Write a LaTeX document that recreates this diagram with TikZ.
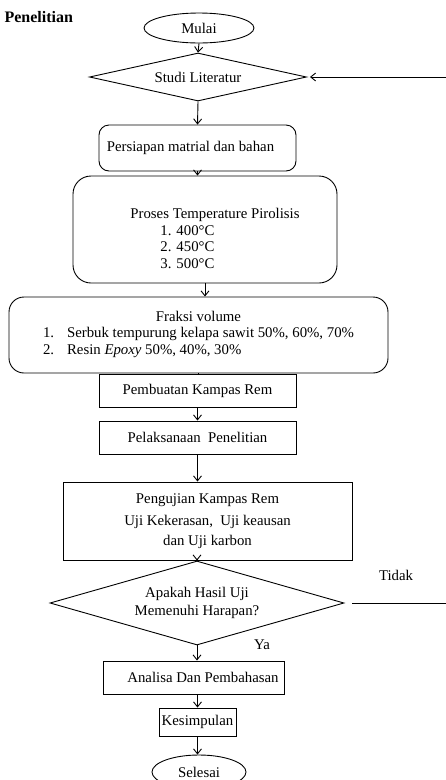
\documentclass[tikz,border=0pt]{standalone}
\usepackage{fontspec}
\setmainfont{Liberation Serif}
\usepackage{tikz}
\usetikzlibrary{shapes.geometric,arrows.meta,positioning}
\tikzset{
	terminal/.style={
		draw, ellipse, inner sep=0pt, line width=0.9pt
	},
	decision/.style={
		draw, diamond, inner sep=0pt, line width=0.9pt, align=center
	},
	process/.style={
		draw, rectangle, inner sep=2pt, line width=0.9pt, align=center
	},
	roundproc/.style={
		process, rounded corners=12pt
	},
	flow_arrow/.style={-{Straight Barb[length=5pt,width=8pt]}, line width=0.9pt}
}

\begin{document}
\begin{tikzpicture}[x=1pt, y=1pt, font={\fontsize{14.8}{16.5}\selectfont}]
  \useasboundingbox (0,0) rectangle (445,-780);
  \node[anchor=west, font={\fontsize{16}{18}\selectfont\bfseries}] (judul) at (1,-17) {Penelitian};
  \node[terminal, minimum width=110pt, minimum height=30pt] (mulai) at (199,-28) {Mulai};
  \node[decision, aspect=4.5, minimum width=217pt, minimum height=48pt] (studi) at (198,-77) {Studi Literatur};
  \node[roundproc, rounded corners=10pt, minimum width=197pt, minimum height=46pt] (persiapan) at (197.5,-148) {Persiapan matrial dan bahan\hspace*{14pt}};
  \node[roundproc, rounded corners=18pt, minimum width=264pt, minimum height=107pt] (proses) at (205,-229.5) {};
  \node[align=left] (prosesisi) at (215,-238.5) {Proses Temperature Pirolisis\\ \hspace*{30pt}1. 400°C\\ \hspace*{30pt}2. 450°C\\ \hspace*{30pt}3. 500°C};
  \node[roundproc, rounded corners=15pt, minimum width=379pt, minimum height=76pt] (fraksi) at (198.5,-335) {Fraksi volume\\ \begin{tabular}[t]{@{}l@{\hspace{13pt}}l@{}}1. & Serbuk tempurung kelapa sawit 50\%, 60\%, 70\%\\ 2. & Resin \textit{Epoxy} 50\%, 40\%, 30\%\end{tabular}};
  \node[process, minimum width=197pt, minimum height=33pt] (pembuatan) at (197.5,-390.5) {Pembuatan Kampas Rem};
  \node[process, minimum width=197pt, minimum height=33pt] (pelaksanaan) at (197.5,-437.5) {Pelaksanaan~ Penelitian};
  \node[process, minimum width=289pt, minimum height=78pt] (pengujian) at (207.5,-521) {Pengujian Kampas Rem\\[5.5pt] Uji Kekerasan,~ Uji keausan\\[3.5pt] dan Uji karbon};
  \node[decision, aspect=3.5, minimum width=294pt, minimum height=84pt] (cek) at (197,-603) {Apakah Hasil Uji\\[1.5pt] Memenuhi Harapan?};
  \node[process, minimum width=181pt, minimum height=33pt] (analisa) at (193.5,-677.5) {\hspace*{19pt}Analisa Dan Pembahasan};
  \node[process, minimum width=77pt, minimum height=28pt] (kesimpulan) at (197.5,-722) {Kesimpulan};
  \node[terminal, minimum width=94pt, minimum height=34pt] (selesai) at (199,-772) {Selesai};
  \node (tidak) at (396,-575) {Tidak};
  \node (ya) at (262,-645) {Ya};
  \coordinate (balik) at (470,0);
  \draw[flow_arrow] (mulai.south) -- (studi.north);
  \draw[flow_arrow] (studi.south) -- (persiapan.north);
  \draw[flow_arrow] (persiapan.south) -- (persiapan.south |- proses.north);
  \draw[flow_arrow] (proses.south) -- (proses.south |- fraksi.north);
  \draw[line width=0.9pt] (fraksi.south) -- (fraksi.south |- pembuatan.north);
  \draw[flow_arrow] (pembuatan.south) -- (pelaksanaan.north);
  \draw[flow_arrow] (pelaksanaan.south) -- (pelaksanaan.south |- pengujian.north);
  \draw[flow_arrow] (pengujian.south -| cek.north) -- (cek.north);
  \draw[flow_arrow] (cek.south) -- (cek.south |- analisa.north);
  \draw[flow_arrow] (analisa.south -| kesimpulan.north) -- (kesimpulan.north);
  \draw[flow_arrow] (kesimpulan.south) -- (kesimpulan.south |- selesai.north);
  \draw[flow_arrow, shorten <=8pt, shorten >=3pt] (cek.east) -- (cek.east -| balik) -- (studi.east -| balik) -- (studi.east);
\end{tikzpicture}
\end{document}
